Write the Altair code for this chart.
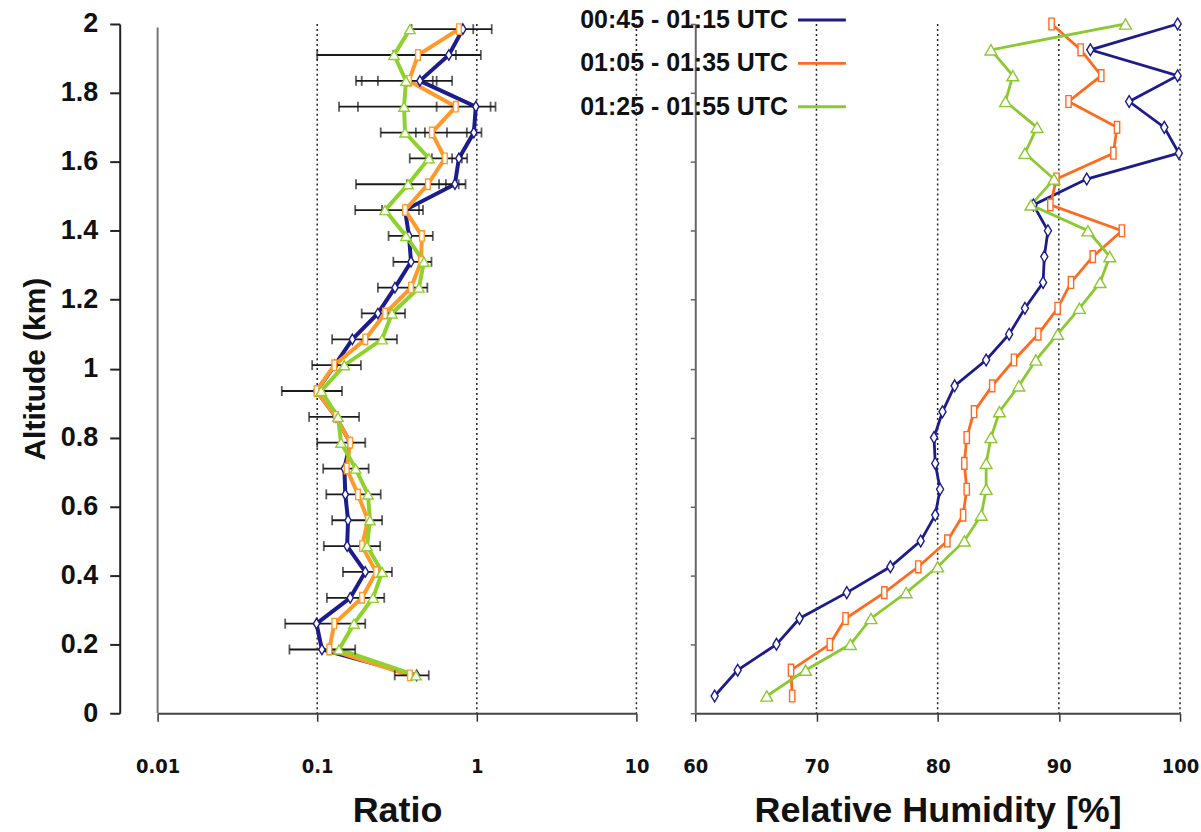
import altair as alt
import pandas as pd

series = ["00:45 - 01:15 UTC", "01:05 - 01:35 UTC", "01:25 - 01:55 UTC"]
colors = ["#1c1c8c", "#ff6a1f", "#8cc832"]
colors_left = ["#1c1c8c", "#ff9a2a", "#8fd12e"]

# ---- left panel: ratio profiles (altitude km) ----
alt_ratio = [0.11, 0.185, 0.26, 0.335, 0.41, 0.485, 0.56, 0.635, 0.71, 0.785,
             0.86, 0.935, 1.01, 1.085, 1.16, 1.235, 1.31, 1.385, 1.46, 1.535,
             1.61, 1.685, 1.76, 1.835, 1.91, 1.985]
ratio_blue = [0.42, 0.107, 0.099, 0.161, 0.2, 0.154, 0.156, 0.15, 0.148, 0.161,
              0.131, 0.099, 0.129, 0.166, 0.24, 0.307, 0.387, 0.376, 0.355, 0.729,
              0.772, 0.958, 0.986, 0.44, 0.668, 0.818]
ratio_orange = [0.381, 0.119, 0.128, 0.191, 0.234, 0.191, 0.208, 0.18, 0.153, 0.161,
                0.131, 0.099, 0.128, 0.2, 0.266, 0.387, 0.447, 0.453, 0.355, 0.494,
                0.631, 0.523, 0.739, 0.376, 0.428, 0.772]
ratio_green = [0.416, 0.137, 0.17, 0.224, 0.255, 0.205, 0.214, 0.208, 0.174, 0.141,
               0.135, 0.106, 0.148, 0.255, 0.294, 0.434, 0.466, 0.36, 0.266, 0.371,
               0.501, 0.355, 0.35, 0.36, 0.303, 0.381]
err_lo = [0.306, 0.067, 0.063, 0.115, 0.145, 0.11, 0.124, 0.114, 0.109, 0.10,
          0.089, 0.06, 0.093, 0.124, 0.19, 0.24, 0.30, 0.28, 0.173, 0.175,
          0.38, 0.25, 0.137, 0.175, 0.10, 0.39]
err_hi = [0.5, 0.173, 0.2, 0.263, 0.294, 0.248, 0.255, 0.25, 0.21, 0.2,
          0.183, 0.143, 0.188, 0.316, 0.355, 0.49, 0.52, 0.53, 0.46, 0.85,
          0.87, 1.07, 1.31, 0.70, 1.06, 1.24]
# inner error-bar caps (altitude, ratio)
cap_alt = [1.985, 1.985, 1.91, 1.91, 1.91, 1.91, 1.835, 1.835, 1.835, 1.835,
           1.76, 1.76, 1.76, 1.685, 1.685, 1.685, 1.685, 1.61, 1.61, 1.61,
           1.535, 1.535, 1.535, 1.535, 1.46, 1.46]
cap_val = [0.77, 0.95, 0.30, 0.43, 0.67, 0.74, 0.19, 0.24, 0.53, 0.56,
           0.18, 0.56, 1.22, 0.415, 0.473, 0.65, 0.866, 0.523, 0.70, 0.806,
           0.365, 0.58, 0.64, 0.77, 0.255, 0.434]

# ---- right panel: relative humidity profiles ----
alt_rh = [0.05, 0.125, 0.2, 0.275, 0.35, 0.425, 0.5, 0.575, 0.65, 0.725,
          0.8, 0.875, 0.95, 1.025, 1.1, 1.175, 1.25, 1.325, 1.4, 1.475,
          1.55, 1.625, 1.7, 1.775, 1.85, 1.925, 2.0]
rh_blue = [61.6, 63.5, 66.7, 68.6, 72.5, 76.1, 78.6, 79.8, 80.2, 79.8,
           79.7, 80.4, 81.4, 84.0, 85.9, 87.2, 88.7, 88.8, 89.1, 87.9,
           92.3, 99.9, 98.7, 95.8, 99.8, 92.6, 99.8]
rh_orange = [68.0, 67.9, 71.1, 72.4, 75.6, 78.4, 80.8, 82.1, 82.4, 82.2,
             82.4, 83.0, 84.5, 86.3, 88.3, 89.9, 91.0, 92.8, 95.2, 89.3,
             89.8, 94.5, 94.8, 90.8, 93.5, 91.8, 89.4]
rh_green = [65.9, 69.1, 72.8, 74.5, 77.4, 80.0, 82.2, 83.6, 84.0, 84.0,
            84.4, 85.1, 86.7, 88.1, 89.9, 91.7, 93.4, 94.2, 92.4, 87.7,
            89.6, 87.2, 88.2, 85.6, 86.2, 84.4, 95.5]

ratio_ticks = [0.01, 0.1, 1, 10]
ratio_grid = [0.1, 1, 10]
rh_ticks = [60, 70, 80, 90, 100]
rh_grid = [70, 80, 90, 100]
alt_ticks = [0, 0.2, 0.4, 0.6, 0.8, 1.0, 1.2, 1.4, 1.6, 1.8, 2.0]

rows = []
for s, vals in zip(series, [ratio_blue, ratio_orange, ratio_green]):
    for a, v in zip(alt_ratio, vals):
        rows.append({"series": s, "alt": a, "value": v})
df_ratio = pd.DataFrame(rows)
rows = []
for s, vals in zip(series, [rh_blue, rh_orange, rh_green]):
    for a, v in zip(alt_rh, vals):
        rows.append({"series": s, "alt": a, "value": v})
df_rh = pd.DataFrame(rows)
df_err = pd.DataFrame({"alt": alt_ratio, "lo": err_lo, "hi": err_hi})
df_caps = pd.DataFrame({"alt": cap_alt + alt_ratio + alt_ratio,
                        "v": cap_val + err_lo + err_hi})

W1, W2, H = 480, 486, 691
BOLD = "Liberation Sans"
NARROW = "Liberation Sans Narrow, DejaVu Sans Condensed, sans-serif"

xs_ratio = alt.Scale(type="log", domain=[0.01, 10], nice=False)
xs_rh = alt.Scale(domain=[60, 100], nice=False, zero=False)
ys = alt.Scale(domain=[0, 2], nice=False)

ax_ratio = alt.Axis(values=ratio_ticks, format="~g", grid=False, tickSize=8,
                    tickColor="#333", tickWidth=1.5, domainColor="#444", domainWidth=2,
                    labelFont=NARROW, labelFontWeight="bold", labelFontSize=20,
                    labelColor="#111", labelPadding=35, labelFlush=False,
                    title="Ratio", titleFont=BOLD, titleFontWeight="bold",
                    titleFontSize=36, titleColor="#111", titlePadding=18)
ax_rh = alt.Axis(values=rh_ticks, format="d", grid=False, tickSize=8,
                 tickColor="#333", tickWidth=1.5, domainColor="#444", domainWidth=2,
                 labelFont=NARROW, labelFontWeight="bold", labelFontSize=20,
                 labelColor="#111", labelPadding=35, labelFlush=False,
                 title="Relative Humidity [%]", titleFont=BOLD, titleFontWeight="bold",
                 titleFontSize=36, titleColor="#111", titlePadding=18)
ay_left = alt.Axis(values=alt_ticks, format="~g", grid=False, offset=38, tickSize=10,
                   tickColor="#222", tickWidth=2, domainColor="#222", domainWidth=2,
                   labelFont=BOLD, labelFontWeight="bold", labelFontSize=27,
                   labelColor="#111", labelPadding=12,
                   title="Altitude (km)", titleFont=BOLD, titleFontWeight="bold",
                   titleFontSize=30, titleColor="#111", titlePadding=10)
ay_right = alt.Axis(values=alt_ticks, labels=False, grid=False, tickSize=5,
                    tickColor="#666", tickWidth=1.5, domainColor="#666", domainWidth=2,
                    title="")

shape_scale = alt.Scale(domain=series, range=[
    "M0,-1L0.6,0L0,1L-0.6,0Z",
    "M-0.45,-1H0.45V1H-0.45Z",
    "triangle-up"])
color_scale = alt.Scale(domain=series, range=colors)
color_scale_left = alt.Scale(domain=series, range=colors_left)

# ---------- left panel ----------
lg = alt.Chart(pd.DataFrame({"v": ratio_grid})).mark_rule(
    color="#222", strokeDash=[2, 3], strokeWidth=1.5).encode(
    x=alt.X("v:Q", scale=xs_ratio, axis=ax_ratio))
frame = alt.Chart(pd.DataFrame({"v": [0.01]})).mark_rule(
    color="#777", strokeWidth=2).encode(
    x=alt.X("v:Q", scale=xs_ratio, axis=ax_ratio),
    y=alt.datum(0, scale=ys), y2=alt.datum(1.99))
l_lines = alt.Chart(df_ratio).mark_line(strokeWidth=4).encode(
    x=alt.X("value:Q", scale=xs_ratio, axis=ax_ratio),
    y=alt.Y("alt:Q", scale=ys, axis=ay_left),
    order="alt:Q",
    color=alt.Color("series:N", scale=color_scale_left, legend=None),
    detail="series:N")
l_err = alt.Chart(df_err).mark_rule(color="#1a1a1a", strokeWidth=1.8).encode(
    x=alt.X("lo:Q", scale=xs_ratio, axis=ax_ratio), x2="hi:Q",
    y=alt.Y("alt:Q", scale=ys, axis=ay_left))
l_caps = alt.Chart(df_caps).mark_tick(color="#1a1a1a", orient="vertical", size=10,
                                      thickness=1.8).encode(
    x=alt.X("v:Q", scale=xs_ratio, axis=ax_ratio),
    y=alt.Y("alt:Q", scale=ys, axis=ay_left))
l_pts = alt.Chart(df_ratio).mark_point(filled=True, fill="white", strokeWidth=1.4,
                                       size=110, opacity=1).encode(
    x=alt.X("value:Q", scale=xs_ratio, axis=ax_ratio),
    y=alt.Y("alt:Q", scale=ys, axis=ay_left),
    shape=alt.Shape("series:N", scale=shape_scale, legend=None),
    stroke=alt.Stroke("series:N", scale=color_scale_left, legend=None))
left = alt.layer(lg, frame, l_lines, l_err, l_caps, l_pts).properties(width=W1, height=H)

# ---------- right panel ----------
rg = alt.Chart(pd.DataFrame({"v": rh_grid})).mark_rule(
    color="#222", strokeDash=[2, 3], strokeWidth=1.5).encode(
    x=alt.X("v:Q", scale=xs_rh, axis=ax_rh))
r_lines = alt.Chart(df_rh).mark_line(strokeWidth=2.8).encode(
    x=alt.X("value:Q", scale=xs_rh, axis=ax_rh),
    y=alt.Y("alt:Q", scale=ys, axis=ay_right),
    order="alt:Q",
    color=alt.Color("series:N", scale=color_scale, legend=None),
    detail="series:N")
r_pts = alt.Chart(df_rh).mark_point(filled=True, fill="white", strokeWidth=1.4,
                                    size=140, opacity=1).encode(
    x=alt.X("value:Q", scale=xs_rh, axis=ax_rh),
    y=alt.Y("alt:Q", scale=ys, axis=ay_right),
    shape=alt.Shape("series:N", scale=shape_scale, legend=None),
    stroke=alt.Stroke("series:N", scale=color_scale, legend=None))

legend_layers = []
for i, (s, c) in enumerate(zip(series, colors)):
    yy = -4 + 43.5 * i
    legend_layers.append(alt.Chart(pd.DataFrame({"t": [s]})).mark_text(
        align="right", baseline="middle", font=BOLD, fontWeight="bold",
        fontSize=25, color="#111").encode(
        text="t:N", x=alt.value(93), y=alt.value(yy)))
    legend_layers.append(alt.Chart(pd.DataFrame({"t": [s]})).mark_rule(
        color=c, strokeWidth=3).encode(
        x=alt.value(103), x2=alt.value(151), y=alt.value(yy)))

right = alt.layer(rg, r_lines, r_pts, *legend_layers).properties(width=W2, height=H)

chart = alt.hconcat(left, right, spacing=59, bounds="flush").resolve_scale(
    color="independent", stroke="independent", shape="independent"
).properties(
    padding={"left": 20, "top": 7, "right": 2, "bottom": 0},
    background="white"
).configure_view(stroke=None)

chart.save("out.html", embed_options={"renderer": "svg", "actions": False})
